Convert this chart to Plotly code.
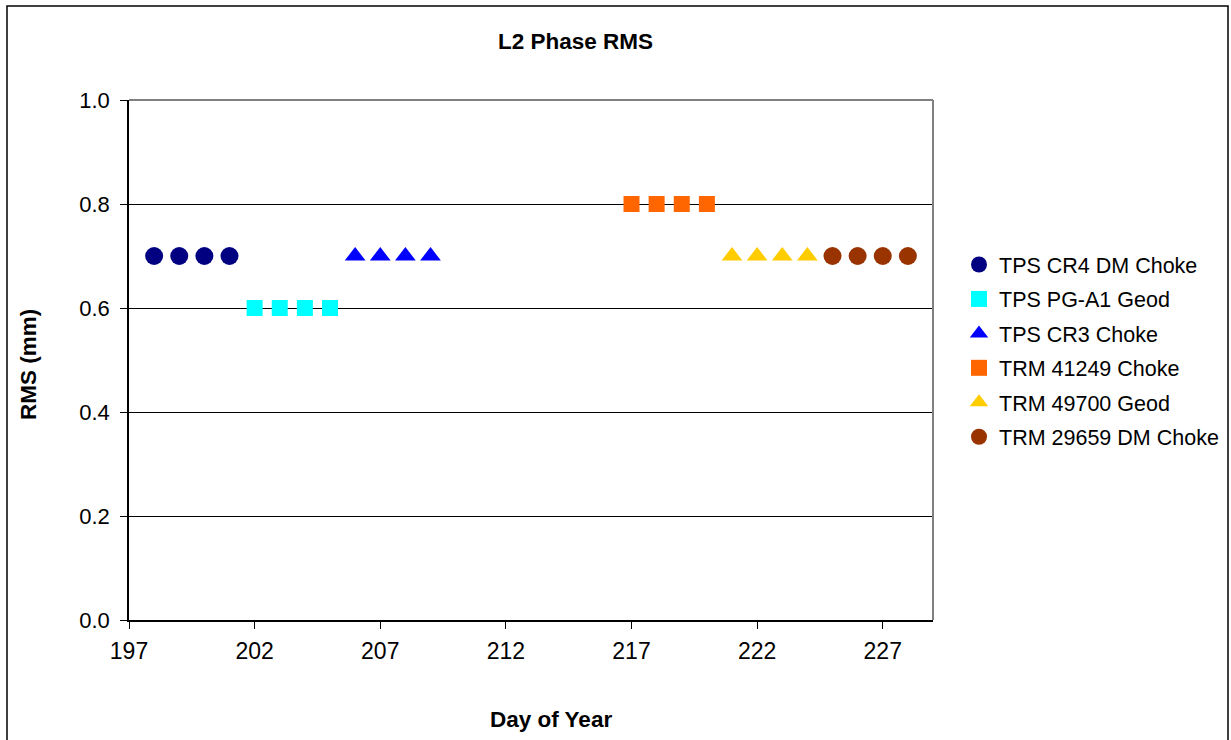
import plotly.graph_objects as go

# Day-of-year and L2 phase RMS (mm) for each antenna
series_names = [
    "TPS CR4 DM Choke",
    "TPS PG-A1 Geod",
    "TPS CR3 Choke",
    "TRM 41249 Choke",
    "TRM 49700 Geod",
    "TRM 29659 DM Choke",
]
days = [
    [198, 199, 200, 201],
    [202, 203, 204, 205],
    [206, 207, 208, 209],
    [217, 218, 219, 220],
    [221, 222, 223, 224],
    [225, 226, 227, 228],
]
rms_mm = [
    [0.7, 0.7, 0.7, 0.7],
    [0.6, 0.6, 0.6, 0.6],
    [0.7, 0.7, 0.7, 0.7],
    [0.8, 0.8, 0.8, 0.8],
    [0.7, 0.7, 0.7, 0.7],
    [0.7, 0.7, 0.7, 0.7],
]
symbols = ["circle", "square", "triangle-up", "square", "triangle-up", "circle"]
sizes = [18, 16, 18, 16, 18, 18]
colors = ["#000080", "#00FFFF", "#0000FF", "#FF6600", "#FFCC00", "#993300"]

W, H = 1231, 740
L, R, T, B = 129, 933, 100, 620

fig = go.Figure()
for i, name in enumerate(series_names):
    fig.add_trace(go.Scatter(
        x=days[i], y=rms_mm[i], mode="markers", name=name,
        legendgroup=f"g{i}",
        marker=dict(symbol=symbols[i], color=colors[i], size=sizes[i],
                    line=dict(width=0)),
    ))

font = "Arial, Liberation Sans, sans-serif"

def px_x(x):
    return (x - L) / (R - L)

def px_y(y):
    return (B - y) / (B - T)

def label(text, x, y, angle=0):
    return dict(text=text, x=px_x(x), y=px_y(y), xref="paper", yref="paper",
                xanchor="center", yanchor="middle", showarrow=False,
                textangle=angle, font=dict(size=22.5, family=font))

fig.update_layout(
    width=W, height=H,
    margin=dict(l=L, r=W - R, t=T, b=H - B, autoexpand=False),
    paper_bgcolor="white", plot_bgcolor="white",
    font=dict(family=font, size=21, color="black"),
    showlegend=True,
    legend=dict(
        x=px_x(959), y=px_y(244), xanchor="left", yanchor="top",
        font=dict(size=21.5, family=font, color="black"),
        tracegroupgap=3.5, itemwidth=30,
        bgcolor="rgba(0,0,0,0)",
    ),
    xaxis=dict(
        range=[197, 229], tick0=197, dtick=5, showgrid=False,
        ticks="outside", ticklen=7, tickcolor="black",
        showline=True, linecolor="black", linewidth=1.5,
        zeroline=False, tickfont=dict(size=23), ticklabelstandoff=3,
    ),
    yaxis=dict(
        range=[0, 1.0], tick0=0, dtick=0.2, tickformat=".1f",
        showgrid=True, gridcolor="black", gridwidth=1,
        ticks="outside", ticklen=7, tickcolor="black",
        showline=True, linecolor="black", linewidth=1.5,
        zeroline=False, tickfont=dict(size=22), ticklabelstandoff=6,
    ),
    annotations=[
        label("<b>L2 Phase RMS</b>", 575, 42),
        label("<b>RMS (mm)</b>", 28, 364, angle=-90),
        label("<b>Day of Year</b>", 551, 719),
    ],
    shapes=[
        # gray frame on top and right of plot area
        dict(type="line", xref="paper", yref="paper", x0=0, x1=1, y0=1, y1=1,
             line=dict(color="#808080", width=2)),
        dict(type="line", xref="paper", yref="paper", x0=1, x1=1, y0=0, y1=1,
             line=dict(color="#808080", width=2)),
        # outer chart border
        dict(type="rect", xref="paper", yref="paper",
             x0=px_x(7), x1=px_x(1228), y0=px_y(6), y1=px_y(760),
             line=dict(color="black", width=1.5), layer="below"),
    ],
)

fig.write_html("out.html")
